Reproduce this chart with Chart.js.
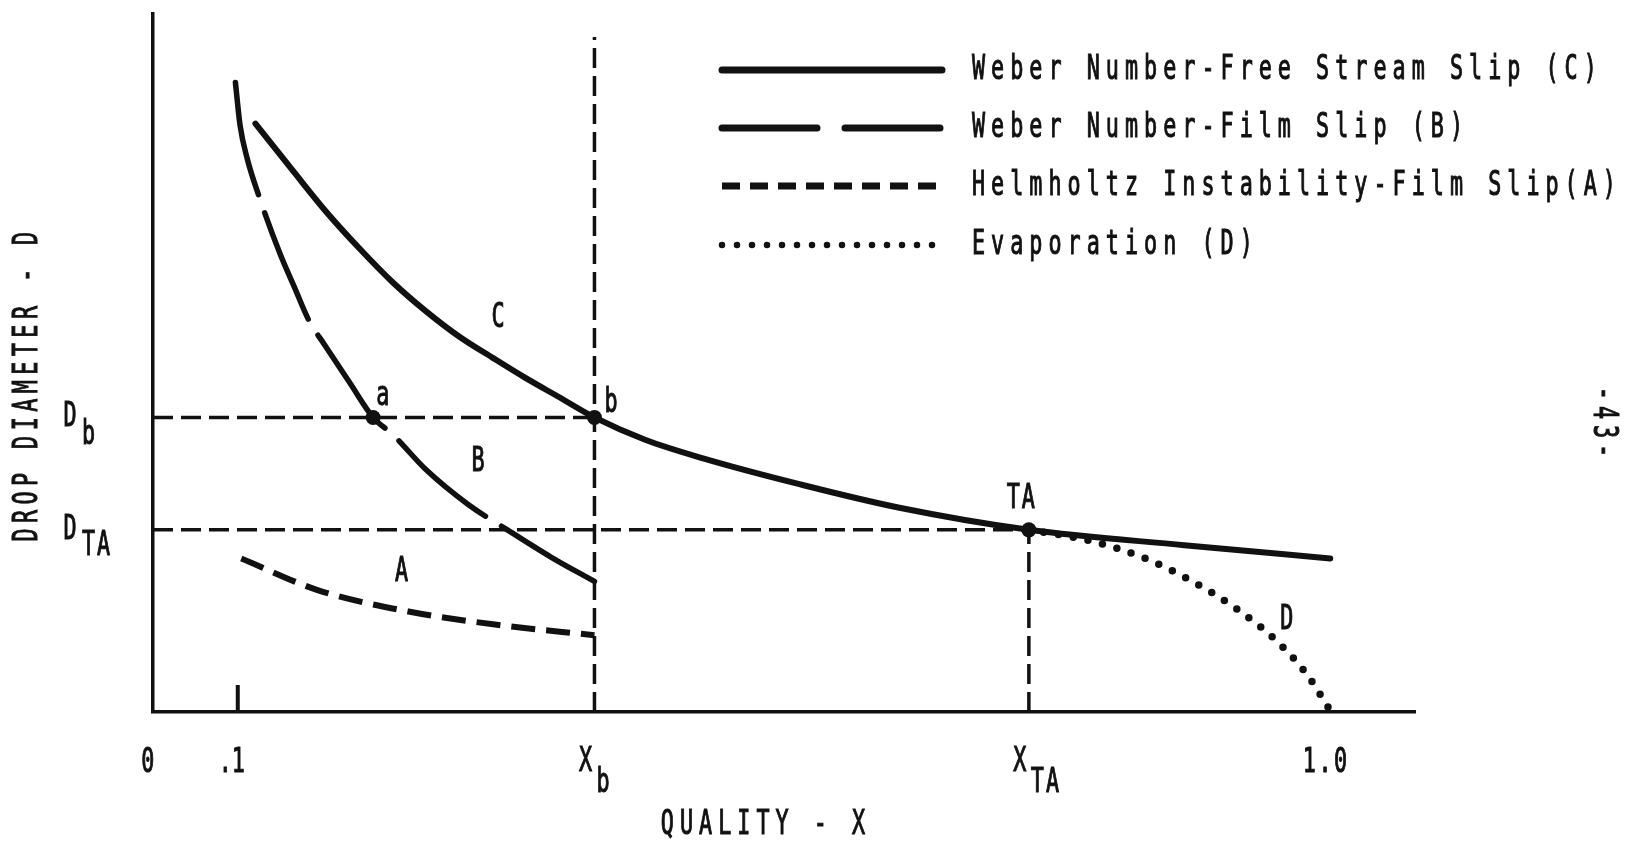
<!DOCTYPE html>
<html>
<head>
<meta charset="utf-8">
<title>Drop diameter vs quality</title>
<script src="https://cdn.jsdelivr.net/npm/chart.js@4.4.1/dist/chart.umd.min.js"></script>
<style>
  body { margin: 0; background: #fff; }
  #wrap { width: 1629px; height: 843px; position: relative; }
</style>
</head>
<body>
<div id="wrap"><canvas id="grafica"></canvas></div>
<script>
// curve C - weber number, free stream slip
const xC = [0.087, 0.120, 0.148, 0.176, 0.204, 0.232, 0.260, 0.289, 0.316, 0.344, 0.375, 0.418, 0.468, 0.550, 0.633, 0.744, 0.876, 1.0];
const yC = [8.43, 7.73, 7.15, 6.63, 6.15, 5.74, 5.38, 5.07, 4.79, 4.52, 4.22, 3.90, 3.63, 3.26, 2.93, 2.61, 2.39, 2.20];
// curve B - weber number, film slip
const xB = [0.070, 0.074, 0.080, 0.090, 0.108, 0.120, 0.133, 0.145, 0.167, 0.187, 0.204, 0.232, 0.268, 0.300, 0.338, 0.375];
const yB = [9.02, 8.40, 7.93, 7.39, 6.56, 6.09, 5.59, 5.28, 4.72, 4.22, 3.97, 3.47, 2.97, 2.62, 2.22, 1.87];
// curve A - helmholtz instability, film slip
const xA = [0.075, 0.141, 0.217, 0.292, 0.375];
const yA = [2.20, 1.74, 1.44, 1.25, 1.10];
// curve D - evaporation
const xD = [0.744, 0.797, 0.840, 0.882, 0.922, 0.958, 0.981, 1.0];
const yD = [2.61, 2.45, 2.22, 1.88, 1.46, 0.96, 0.52, 0.02];

// characteristic qualities / diameters
const Xb = 0.375;
const XTA = 0.744;
const Db = 4.22;
const DTA = 2.61;
const xbLineTop = 9.67;

// marked points a, b, TA
const markX = [0.187, Xb, XTA];
const markY = [Db, Db, DTA];

// x axis ticks (schematic)
const xTickValues = [0, 0.072, Xb, XTA, 1.0];
const xTickLabels = [['0', ''], ['.1', ''], ['X', 'b'], ['X', 'TA'], ['1.0', '']];

const seriesNames = [
  'Weber Number-Free Stream Slip (C)',
  'Weber Number-Film Slip (B)',
  'Helmholtz Instability-Film Slip(A)',
  'Evaporation (D)'
];

// letters written next to the curves
const noteText = ['C', 'a', 'b', 'B', 'A', 'TA', 'D'];
const noteX = [0.294, 0.196, 0.390, 0.277, 0.212, 0.738, 0.964];
const noteY = [5.64, 4.53, 4.43, 3.58, 2.01, 3.05, 1.32];

function pts(xs, ys) {
  return xs.map(function (x, i) { return { x: x, y: ys[i] }; });
}

const INK = '#111';
const FONT = '"DejaVu Sans Mono", "Liberation Mono", monospace';
const FS = 34;

// typewriter-ish text: squeezed mono with wide spacing, slightly heavier ink
function typeText(ctx, s, x, y, size, align, rot, spacing) {
  ctx.save();
  ctx.translate(x, y);
  if (rot) ctx.rotate(rot);
  ctx.scale(0.64, 1);
  ctx.font = size + 'px ' + FONT;
  ctx.letterSpacing = (spacing === undefined ? 9.4 : spacing) + 'px';
  ctx.fillStyle = INK;
  ctx.strokeStyle = INK;
  ctx.lineWidth = 1.1;
  ctx.textAlign = align || 'center';
  ctx.textBaseline = 'middle';
  ctx.fillText(s, 0, 0);
  ctx.strokeText(s, 0, 0);
  ctx.restore();
}

const extras = {
  id: 'extras',
  afterDraw: function (chart) {
    const ctx = chart.ctx;
    const xs = chart.scales.x, ys = chart.scales.y;

    // short tick at .1
    ctx.save();
    ctx.strokeStyle = INK;
    ctx.lineWidth = 4;
    const tx = xs.getPixelForValue(xTickValues[1]);
    ctx.beginPath();
    ctx.moveTo(tx, ys.bottom - 27);
    ctx.lineTo(tx, ys.bottom);
    ctx.stroke();
    ctx.restore();

    // x tick labels
    xTickValues.forEach(function (v, i) {
      const px = xs.getPixelForValue(v);
      const lab = xTickLabels[i];
      if (lab[1]) {
        typeText(ctx, lab[0], px - 9, 762, FS, 'center', 0, 0);
        typeText(ctx, lab[1], px + 2, 783, FS, 'left', 0, 3);
      } else if (i === 1) {
        typeText(ctx, lab[0], px - 6, 763, FS, 'center', 0, 0);
      } else {
        typeText(ctx, lab[0], px - 4, 763, FS, 'center', 0, 4);
      }
    });

    // y reference labels
    typeText(ctx, 'D', 70, ys.getPixelForValue(Db), FS, 'center', 0, 0);
    typeText(ctx, 'b', 82, ys.getPixelForValue(Db) + 18, FS, 'left', 0, 0);
    typeText(ctx, 'D', 70, ys.getPixelForValue(DTA), FS, 'center', 0, 0);
    typeText(ctx, 'TA', 82, ys.getPixelForValue(DTA) + 16, FS, 'left', 0, 3);

    // axis titles
    typeText(ctx, 'QUALITY - X', 766, 825, FS, 'center', 0, 9.4);
    typeText(ctx, 'DROP DIAMETER - D', 28, 384, FS, 'center', -Math.PI / 2, 8.5);

    // page number
    typeText(ctx, '-43-', 1603, 425, FS, 'center', Math.PI / 2, 9.4);

    // curve letters
    noteText.forEach(function (t, i) {
      typeText(ctx, t, xs.getPixelForValue(noteX[i]), ys.getPixelForValue(noteY[i]), FS, 'center', 0, 3);
    });

    // legend
    const rows = [70, 128, 186, 245];
    for (let i = 0; i < 4; i++) {
      const ds = chart.data.datasets[i + 1];
      ctx.save();
      ctx.strokeStyle = INK;
      ctx.lineWidth = ds.legendWidth;
      ctx.lineCap = ds.borderCapStyle || 'butt';
      ctx.setLineDash(ds.legendDash);
      ctx.beginPath();
      ctx.moveTo(722, rows[i]);
      ctx.lineTo(942, rows[i]);
      ctx.stroke();
      ctx.restore();
      typeText(ctx, ds.label, 972, rows[i], FS, 'left', 0, 9.4);
    }
  }
};

const guideStyle = {
  borderColor: INK,
  borderWidth: 3.5,
  borderDash: [20, 8],
  pointRadius: 0,
  showLine: true,
  fill: false
};

const graph = document.getElementById('grafica');
const chart = new Chart(graph, {
  type: 'line',
  data: {
    datasets: [
      {
        label: 'points',
        type: 'scatter',
        data: pts(markX, markY),
        pointRadius: 7.5,
        pointBackgroundColor: INK,
        pointBorderWidth: 0,
        showLine: false
      },
      {
        label: seriesNames[0],
        data: pts(xC, yC),
        borderColor: INK,
        borderWidth: 6,
        borderCapStyle: 'round',
        cubicInterpolationMode: 'monotone',
        pointRadius: 0,
        legendWidth: 7,
        legendDash: []
      },
      {
        label: seriesNames[1],
        data: pts(xB, yB),
        borderColor: INK,
        borderWidth: 5.5,
        borderDash: [115, 19],
        borderCapStyle: 'round',
        cubicInterpolationMode: 'monotone',
        pointRadius: 0,
        legendWidth: 7,
        legendDash: [95, 28]
      },
      {
        label: seriesNames[2],
        data: pts(xA, yA),
        borderColor: INK,
        borderWidth: 6,
        borderDash: [24, 11],
        cubicInterpolationMode: 'monotone',
        pointRadius: 0,
        legendWidth: 7,
        legendDash: [18, 10]
      },
      {
        label: seriesNames[3],
        data: pts(xD, yD),
        borderColor: INK,
        borderWidth: 7.5,
        borderDash: [0, 15],
        borderCapStyle: 'round',
        cubicInterpolationMode: 'monotone',
        pointRadius: 0,
        legendWidth: 6.5,
        legendDash: [0, 15]
      },
      Object.assign({ label: 'Xb', data: pts([Xb, Xb], [0, xbLineTop]) }, guideStyle),
      Object.assign({ label: 'Db', data: pts([0, Xb], [Db, Db]) }, guideStyle),
      Object.assign({ label: 'DTA', data: pts([0, XTA], [DTA, DTA]) }, guideStyle),
      Object.assign({ label: 'XTA', data: pts([XTA, XTA], [0, DTA]) }, guideStyle)
    ]
  },
  options: {
    responsive: true,
    maintainAspectRatio: false,
    animation: false,
    layout: { padding: { left: 145, right: 214, top: 14, bottom: 123 } },
    plugins: {
      legend: { display: false },
      tooltip: { enabled: false }
    },
    scales: {
      x: {
        type: 'linear',
        min: 0,
        max: 1.072,
        grid: { display: false },
        ticks: { display: false },
        border: { display: true, color: INK, width: 3.5 }
      },
      y: {
        type: 'linear',
        min: 0,
        max: 10,
        grid: { display: false },
        ticks: { display: false },
        border: { display: true, color: INK, width: 3.5 }
      }
    }
  },
  plugins: [extras]
});
</script>
</body>
</html>
